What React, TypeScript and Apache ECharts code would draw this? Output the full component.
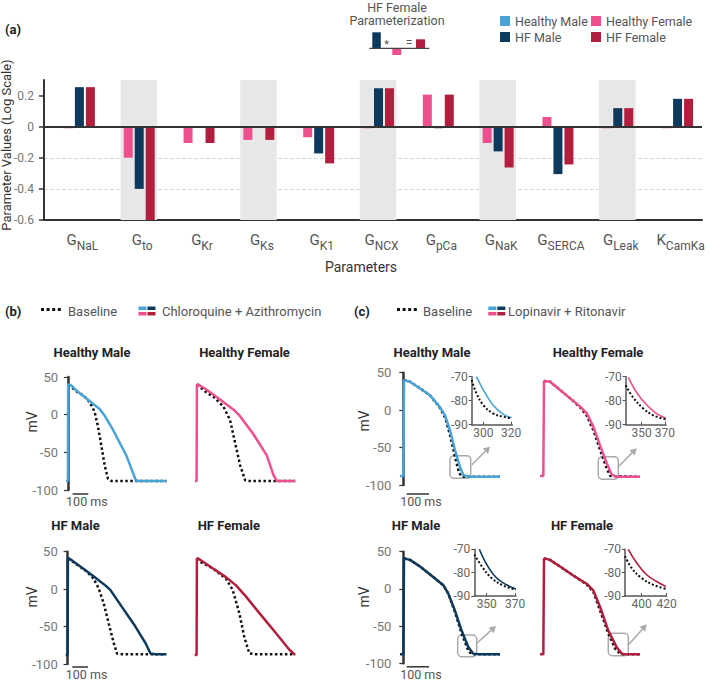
import React, { useEffect, useRef } from 'react';
import * as echarts from 'echarts';

const FONT = 'Roboto, "Noto Sans", sans-serif';

const C_HM = '#4aa3d6';
const C_HF = '#ee4f8e';
const C_HFM = '#0d3a5c';
const C_HFF = '#b21e3d';

// ---------- Panel (a) data ----------
const paramMain = ['G', 'G', 'G', 'G', 'G', 'G', 'G', 'G', 'G', 'G', 'K'];
const paramSub = ['NaL', 'to', 'Kr', 'Ks', 'K1', 'NCX', 'pCa', 'NaK', 'SERCA', 'Leak', 'CamKa'];
const categories = paramMain.map((m, i) => m + '_' + paramSub[i]);
const healthyMale = [0, 0, 0, 0, 0, 0, 0, 0, 0, 0, 0];
const healthyFemale = [-0.01, -0.2, -0.105, -0.085, -0.068, -0.01, 0.206, -0.105, 0.062, -0.01, -0.01];
const hfMale = [0.254, -0.4, -0.006, -0.006, -0.172, 0.247, -0.01, -0.159, -0.305, 0.119, 0.179];
const hfFemale = [0.254, -0.6, -0.105, -0.085, -0.236, 0.247, 0.206, -0.262, -0.243, 0.119, 0.179];
const shadedParams = ['G_to', 'G_Ks', 'G_NCX', 'G_NaK', 'G_Leak'];
const yTicksA = [-0.6, -0.4, -0.2, 0, 0.2];

// ---------- Panel (b) traces: [ms, mV] ----------
const bHM_drug = [[-12, -88], [0, -88], [2, 40], [21, 39], [60, 31], [120, 21], [200, 8], [230, 0], [287, -20], [372, -54], [420, -80], [432, -87], [450, -88], [628, -88]];
const bHM_base = [[3, 40], [21, 37], [60, 30], [96, 26], [138, 17], [170, 4], [191, -15], [213, -41], [234, -67], [255, -85], [277, -88], [628, -88]];
const bHF_drug = [[-10, -88], [0, -88], [2, 40], [11, 40], [64, 33], [149, 20], [234, 7], [277, -2], [362, -26], [447, -54], [489, -80], [511, -88], [628, -88]];
const bHF_base = [[3, 40], [21, 37], [60, 30], [106, 24], [170, 11], [213, -7], [245, -37], [277, -67], [309, -87], [330, -88], [628, -88]];
const bHFM_drug = [[-12, -88], [0, -88], [2, 41], [11, 41], [70, 32], [155, 19], [240, 5], [272, -1], [347, -24], [432, -50], [496, -72], [528, -86], [560, -87], [628, -87]];
const bHFM_base = [[3, 41], [17, 39], [113, 25], [166, 14], [198, 1], [230, -19], [262, -46], [294, -72], [315, -86], [347, -87], [628, -87]];
const bHFF_drug = [[-12, -88], [0, -88], [2, 41], [11, 41], [102, 28], [187, 16], [251, 5], [315, -10], [400, -32], [506, -59], [591, -81], [623, -87], [628, -87]];
const bHFF_base = [[3, 41], [28, 36], [102, 28], [187, 14], [230, -1], [272, -32], [304, -64], [336, -86], [379, -87], [628, -87]];

// ---------- Panel (c) traces: [ms, mV] ----------
const cHM_drug = [[-15, -88], [0, -88], [3, 40], [30, 38], [75, 29], [119, 20], [164, 4], [187, -7], [209, -27], [231, -53], [254, -76], [269, -87], [299, -89], [433, -89]];
const cHM_base = [[3, 40], [30, 38], [75, 29], [119, 20], [164, 3], [187, -10], [209, -33], [231, -62], [250, -84], [262, -89], [433, -89]];
const cHF_drug = [[-15, -88], [0, -88], [3, 39], [30, 38], [75, 27], [119, 16], [164, 5], [194, -4], [224, -22], [254, -47], [284, -71], [306, -86], [328, -89], [433, -89]];
const cHF_base = [[3, 39], [30, 38], [75, 27], [119, 16], [164, 4], [194, -7], [224, -27], [254, -53], [284, -78], [300, -88], [433, -89]];
const cHFM_drug = [[-15, -88], [0, -88], [3, 41], [30, 39], [75, 30], [134, 16], [179, 5], [201, -6], [231, -29], [261, -56], [291, -78], [313, -87], [343, -88], [433, -88]];
const cHFM_base = [[3, 41], [30, 39], [75, 30], [134, 16], [179, 5], [201, -6], [231, -31], [261, -60], [291, -83], [306, -88], [433, -88]];
const cHFF_drug = [[-15, -88], [0, -88], [3, 41], [30, 39], [75, 30], [134, 18], [194, 7], [224, -2], [254, -24], [291, -56], [328, -78], [351, -87], [373, -88], [433, -88]];
const cHFF_base = [[3, 41], [30, 39], [75, 30], [134, 18], [194, 6], [224, -4], [254, -29], [291, -60], [321, -80], [343, -87], [360, -88], [433, -88]];

// ---------- Insets (c): [ms, mV] ----------
const iHM_drug = [[295, -70], [300, -75.5], [307, -81.8], [314.5, -85.7], [320.5, -87.1]];
const iHM_base = [[291.6, -71.4], [295, -76.9], [300, -81.8], [307, -85.3], [314.5, -86.7], [320.5, -87.3]];
const iHF_drug = [[338.6, -70.3], [345.7, -76.6], [354.3, -81.7], [362.9, -85.4], [371, -87.3]];
const iHF_base = [[336.3, -73.6], [342.9, -78.8], [351.4, -83.2], [360, -86.1], [371, -87.8]];
const iHFM_drug = [[344.8, -70], [350, -76.5], [357, -82.3], [364, -85.2], [370.6, -87]];
const iHFM_base = [[341.3, -72.2], [346.4, -77.2], [353.4, -82.3], [361.6, -85.5], [370.6, -87.4]];
const iHFF_drug = [[389.3, -70], [396, -75.8], [404, -80.9], [412, -83.8], [419.5, -86]];
const iHFF_base = [[386.7, -72.9], [392, -78], [400, -82.3], [409.3, -85.2], [419.5, -87]];

const apTicks = [-100, -50, 0, 50];
const SCALE_MS = 100;

function buildOption() {
  const grids: any[] = [];
  const xAxes: any[] = [];
  const yAxes: any[] = [];
  const series: any[] = [];
  const graphics: any[] = [];

  const txt = (x: number, y: number, text: string, opts: any = {}) => ({
    type: 'text',
    x,
    y,
    rotation: opts.rotation || 0,
    silent: true,
    style: {
      text,
      fill: opts.fill || '#555',
      fontSize: opts.fontSize || 13,
      fontWeight: opts.fontWeight || 'normal',
      fontFamily: FONT,
      align: opts.align || 'left',
      textAlign: opts.align || 'left',
      verticalAlign: 'middle',
      textVerticalAlign: 'middle',
    },
  });

  // ===== Panel (a) =====
  grids.push({ left: 44, top: 80, width: 658, height: 140 });
  xAxes.push({
    gridIndex: 0,
    type: 'category',
    data: categories,
    axisLine: { onZero: false, lineStyle: { color: '#333', width: 2 } },
    axisTick: { alignWithLabel: true, length: 6, lineStyle: { color: '#333', width: 1.5 } },
    axisLabel: {
      interval: 0,
      margin: 8,
      padding: [0, 0, 0, 17],
      formatter: (v: string) => {
        const [m, s] = v.split('_');
        return `{m|${m}}{s|${s}}`;
      },
      rich: {
        m: { fontSize: 15, color: '#555', fontFamily: FONT },
        s: { fontSize: 12, color: '#555', fontFamily: FONT, padding: [12, 0, 0, 0] },
      },
    },
  });
  yAxes.push({
    gridIndex: 0,
    type: 'value',
    min: -0.6,
    max: 0.3,
    interval: 0.2,
    axisLine: { show: true, lineStyle: { color: '#333', width: 2 } },
    axisTick: { show: true, length: 5, customValues: yTicksA, lineStyle: { color: '#333', width: 1.5 } },
    axisLabel: {
      customValues: yTicksA,
      fontSize: 12,
      color: '#777',
      margin: 10,
      fontFamily: FONT,
      formatter: (v: number) => (Math.abs(v) < 1e-9 ? '0' : v.toFixed(1)),
    },
    splitLine: { show: true, showMaxLine: false, showMinLine: false, lineStyle: { type: 'dashed', color: '#d8d8d8', width: 1 } },
  });

  series.push({
    type: 'custom',
    xAxisIndex: 0,
    yAxisIndex: 0,
    silent: true,
    z: 1,
    data: shadedParams.map((p) => [p, 0.3]),
    encode: { x: 0, y: 1 },
    renderItem: (params: any, api: any) => {
      const idx = api.value(0);
      const top = api.coord([idx, 0.3]);
      const bot = api.coord([idx, -0.6]);
      const bw = api.size([1, 0])[0];
      return {
        type: 'rect',
        shape: { x: top[0] - 0.22 * bw, y: top[1], width: 0.61 * bw, height: bot[1] - top[1] },
        style: { fill: '#e7e7e7' },
      };
    },
  });

  const barDefs = [
    { name: 'Healthy Male', data: healthyMale, color: C_HM },
    { name: 'Healthy Female', data: healthyFemale, color: C_HF },
    { name: 'HF Male', data: hfMale, color: C_HFM },
    { name: 'HF Female', data: hfFemale, color: C_HFF },
  ];
  barDefs.forEach((b, i) => {
    const s: any = {
      type: 'bar',
      name: b.name,
      xAxisIndex: 0,
      yAxisIndex: 0,
      data: b.data,
      barWidth: 9,
      barGap: '22%',
      itemStyle: { color: b.color },
      z: 2,
      silent: true,
    };
    if (i === 3) {
      s.markLine = {
        silent: true,
        symbol: 'none',
        label: { show: false },
        lineStyle: { color: '#333', width: 2, type: 'solid' },
        data: [{ yAxis: 0 }],
        z: 5,
      };
    }
    series.push(s);
  });

  graphics.push(txt(5, 29, '(a)', { fontWeight: 'bold', fill: '#222' }));
  graphics.push(txt(6, 145, 'Parameter Values (Log Scale)', { rotation: Math.PI / 2, align: 'center', fontSize: 13, fill: '#333' }));
  graphics.push(txt(361, 267, 'Parameters', { align: 'center', fontSize: 14, fill: '#333' }));
  graphics.push(txt(397, 7, 'HF Female', { align: 'center', fontSize: 12.5, fill: '#555' }));
  graphics.push(txt(397, 20.5, 'Parameterization', { align: 'center', fontSize: 12.5, fill: '#555' }));
  // mini illustration
  graphics.push({ type: 'rect', silent: true, shape: { x: 372.3, y: 32.3, width: 8.5, height: 15.7 }, style: { fill: C_HFM } });
  graphics.push({ type: 'rect', silent: true, shape: { x: 392.3, y: 48.5, width: 9, height: 6.5 }, style: { fill: C_HF } });
  graphics.push({ type: 'rect', silent: true, shape: { x: 416, y: 39.3, width: 9, height: 8.8 }, style: { fill: C_HFF } });
  graphics.push({ type: 'line', silent: true, shape: { x1: 369.3, y1: 48.3, x2: 429.3, y2: 48.3 }, style: { stroke: '#444', lineWidth: 1.2 } });
  graphics.push(txt(386.7, 44, '*', { align: 'center', fontSize: 11, fill: '#555' }));
  graphics.push(txt(409, 42.7, '=', { align: 'center', fontSize: 12, fill: '#555' }));

  // ===== Panels (b) & (c) =====
  const apCharts = [
    { left: 66, top: 377, w: 100.5, h: 113, xMin: -12, xMax: 628, drug: bHM_drug, base: bHM_base, color: C_HM, axis: true, bar: 30, barOff: 4 },
    { left: 194.7, top: 377, w: 100.5, h: 113, xMin: -12, xMax: 628, drug: bHF_drug, base: bHF_base, color: C_HF, axis: false },
    { left: 65.7, top: 551.7, w: 100.5, h: 112.3, xMin: -12, xMax: 628, drug: bHFM_drug, base: bHFM_base, color: C_HFM, axis: true, bar: 30, barOff: 3 },
    { left: 194.7, top: 551.7, w: 100.5, h: 112.3, xMin: -12, xMax: 628, drug: bHFF_drug, base: bHFF_base, color: C_HFF, axis: false },
    { left: 399.3, top: 372.7, w: 100.7, h: 112.3, xMin: -18, xMax: 433, drug: cHM_drug, base: cHM_base, color: C_HM, axis: true, bar: 15, barOff: 9 },
    { left: 539.3, top: 372.7, w: 100.7, h: 112.3, xMin: -18, xMax: 433, drug: cHF_drug, base: cHF_base, color: C_HF, axis: false },
    { left: 399.3, top: 551.7, w: 100.7, h: 111.6, xMin: -18, xMax: 433, drug: cHFM_drug, base: cHFM_base, color: C_HFM, axis: true, bar: 15, barOff: 3.5 },
    { left: 539.3, top: 551.7, w: 100.7, h: 111.6, xMin: -18, xMax: 433, drug: cHFF_drug, base: cHFF_base, color: C_HFF, axis: false },
  ];

  apCharts.forEach((c) => {
    const gi = grids.length;
    grids.push({ left: c.left, top: c.top, width: c.w, height: c.h });
    xAxes.push({ gridIndex: gi, type: 'value', min: c.xMin, max: c.xMax, show: false });
    yAxes.push({
      gridIndex: gi,
      type: 'value',
      min: -100,
      max: 50,
      interval: 50,
      show: c.axis,
      axisLine: { show: true, lineStyle: { color: '#333', width: 2.5 } },
      axisTick: { show: true, length: 4, customValues: apTicks, lineStyle: { color: '#333', width: 1.2 } },
      axisLabel: { show: true, customValues: apTicks, fontSize: 13, color: '#777', margin: 8, fontFamily: FONT },
      splitLine: { show: false },
    });
    series.push({
      type: 'line',
      xAxisIndex: gi,
      yAxisIndex: gi,
      data: c.base,
      symbol: 'none',
      showSymbol: false,
      silent: true,
      z: 2,
      lineStyle: { color: '#111', width: 2.5, type: 'dotted' },
    });
    series.push({
      type: 'line',
      xAxisIndex: gi,
      yAxisIndex: gi,
      data: c.drug,
      symbol: 'none',
      showSymbol: false,
      silent: true,
      z: 3,
      lineStyle: { color: c.color, width: 2.5 },
    });
    if (c.axis) {
      const off = c.barOff as number;
      series.push({
        type: 'custom',
        xAxisIndex: gi,
        yAxisIndex: gi,
        silent: true,
        clip: false,
        z: 4,
        data: [[c.bar, -100]],
        encode: { x: 0, y: 1 },
        renderItem: (params: any, api: any) => {
          const p0 = api.coord([api.value(0), api.value(1)]);
          const p1 = api.coord([api.value(0) + SCALE_MS, api.value(1)]);
          return {
            type: 'group',
            children: [
              { type: 'line', shape: { x1: p0[0], y1: p0[1] + off, x2: p1[0], y2: p0[1] + off }, style: { stroke: '#333', lineWidth: 1.5 } },
              {
                type: 'text',
                x: p0[0] - 6.5,
                y: p0[1] + off + 7.5,
                style: { text: '100 ms', fill: '#555', fontSize: 12.5, fontFamily: FONT, align: 'left', textAlign: 'left', verticalAlign: 'middle', textVerticalAlign: 'middle' },
              },
            ],
          };
        },
      });
    }
  });

  // ===== Insets =====
  const insets = [
    { left: 471.7, top: 376.7, w: 40.7, h: 48, xMin: 291.6, xMax: 321, ticks: [300, 320], drug: iHM_drug, base: iHM_base, color: C_HM },
    { left: 625.7, top: 376.7, w: 40.3, h: 48, xMin: 336.3, xMax: 371, ticks: [350, 370], drug: iHF_drug, base: iHF_base, color: C_HF },
    { left: 474.3, top: 549.3, w: 41.7, h: 46.7, xMin: 341.2, xMax: 370.7, ticks: [350, 370], drug: iHFM_drug, base: iHFM_base, color: C_HFM },
    { left: 625, top: 549.3, w: 41.7, h: 46.7, xMin: 386.7, xMax: 420, ticks: [400, 420], drug: iHFF_drug, base: iHFF_base, color: C_HFF },
  ];
  insets.forEach((c) => {
    const gi = grids.length;
    grids.push({ left: c.left, top: c.top, width: c.w, height: c.h });
    xAxes.push({
      gridIndex: gi,
      type: 'value',
      min: c.xMin,
      max: c.xMax,
      axisLine: { show: true, onZero: false, lineStyle: { color: '#555', width: 1.5 } },
      axisTick: { show: true, inside: true, length: 3, customValues: c.ticks, lineStyle: { color: '#555' } },
      axisLabel: { customValues: c.ticks, fontSize: 12, color: '#666', margin: 2, fontFamily: FONT },
      splitLine: { show: false },
    });
    yAxes.push({
      gridIndex: gi,
      type: 'value',
      min: -90,
      max: -70,
      interval: 10,
      axisLine: { show: true, lineStyle: { color: '#555', width: 1.5 } },
      axisTick: { show: true, length: 3, lineStyle: { color: '#555' } },
      axisLabel: { fontSize: 12, color: '#666', margin: 4, fontFamily: FONT },
      splitLine: { show: false },
    });
    series.push({
      type: 'line', xAxisIndex: gi, yAxisIndex: gi, data: c.drug, symbol: 'none', silent: true, smooth: 0.4, z: 2,
      lineStyle: { color: c.color, width: 1.6 },
    });
    series.push({
      type: 'line', xAxisIndex: gi, yAxisIndex: gi, data: c.base, symbol: 'none', silent: true, smooth: 0.4, z: 3,
      lineStyle: { color: '#111', width: 2, type: 'dotted' },
    });
  });

  // ----- titles -----
  const titles: [number, number, string][] = [
    [92, 352, 'Healthy Male'], [244.5, 352, 'Healthy Female'], [75.5, 525, 'HF Male'], [228.8, 525, 'HF Female'],
    [432, 352, 'Healthy Male'], [598, 352, 'Healthy Female'], [416, 525, 'HF Male'], [582, 525, 'HF Female'],
  ];
  titles.forEach(([x, y, t]) => graphics.push(txt(x, y, t, { align: 'center', fontWeight: 'bold', fill: '#222', fontSize: 13 })));

  // mV labels
  [[32, 422], [32, 597], [364, 421], [364, 597]].forEach(([x, y]) =>
    graphics.push(txt(x, y, 'mV', { rotation: Math.PI / 2, align: 'center', fontSize: 14, fill: '#333' }))
  );

  // ----- (b)/(c) legends -----
  const legendRow = (x0: number, label: string, dotX: number, baseX: number, sqX: number, drugX: number, drug: string) => {
    graphics.push(txt(x0, 311, label, { fontWeight: 'bold', fill: '#222' }));
    graphics.push({ type: 'line', silent: true, shape: { x1: dotX, y1: 309.5, x2: dotX + 20, y2: 309.5 }, style: { stroke: '#111', lineWidth: 3, lineDash: [3, 2.6] } });
    graphics.push(txt(baseX, 311, 'Baseline', { fill: '#555' }));
    graphics.push({ type: 'rect', silent: true, shape: { x: sqX, y: 306.5, width: 8, height: 3.5 }, style: { fill: C_HM } });
    graphics.push({ type: 'rect', silent: true, shape: { x: sqX + 9, y: 306.5, width: 8, height: 3.5 }, style: { fill: C_HFM } });
    graphics.push({ type: 'rect', silent: true, shape: { x: sqX, y: 312, width: 8, height: 3.5 }, style: { fill: C_HF } });
    graphics.push({ type: 'rect', silent: true, shape: { x: sqX + 9, y: 312, width: 8, height: 3.5 }, style: { fill: C_HFF } });
    graphics.push(txt(drugX, 311, drug, { fill: '#555' }));
  };
  legendRow(5, '(b)', 41, 68, 138.5, 162, 'Chloroquine + Azithromycin');
  legendRow(354, '(c)', 397, 423, 488.3, 508, 'Lopinavir + Ritonavir');

  // ----- magnifier boxes and arrows -----
  const boxes = [
    { x: 450, y: 455.7, w: 20.7, h: 22.6, a: [471.7, 465, 490, 446.7] },
    { x: 598.3, y: 456.7, w: 20, h: 22.6, a: [618.3, 466.7, 636.7, 448.3] },
    { x: 457.7, y: 635, w: 19, h: 21.7, a: [476.7, 643.3, 496, 626] },
    { x: 608.3, y: 633.3, w: 20, h: 22.4, a: [628.3, 645, 646.7, 624.3] },
  ];
  const grey = '#aaaaaa';
  boxes.forEach((b) => {
    graphics.push({ type: 'rect', silent: true, shape: { x: b.x, y: b.y, width: b.w, height: b.h, r: 4 }, style: { fill: 'none', stroke: grey, lineWidth: 1.5 } });
    const [x1, y1, x2, y2] = b.a;
    const dx = x2 - x1, dy = y2 - y1;
    const len = Math.sqrt(dx * dx + dy * dy);
    const ux = dx / len, uy = dy / len;
    const hl = 6.5, hw = 3.8;
    const bx = x2 - ux * hl, by = y2 - uy * hl;
    graphics.push({ type: 'line', silent: true, shape: { x1, y1, x2: bx, y2: by }, style: { stroke: grey, lineWidth: 1.5 } });
    graphics.push({
      type: 'polygon', silent: true,
      shape: { points: [[x2, y2], [bx - uy * hw, by + ux * hw], [bx + uy * hw, by - ux * hw]] },
      style: { fill: grey },
    });
  });

  return {
    animation: false,
    textStyle: { fontFamily: FONT },
    grid: grids,
    xAxis: xAxes,
    yAxis: yAxes,
    legend: [
      {
        data: ['Healthy Male', 'HF Male'], orient: 'vertical', left: 500, top: 14.5, padding: 0,
        itemWidth: 10, itemHeight: 10, itemGap: 3, selectedMode: false, icon: 'rect',
        textStyle: { fontSize: 12.5, color: '#555', fontFamily: FONT },
      },
      {
        data: ['Healthy Female', 'HF Female'], orient: 'vertical', left: 591, top: 14.5, padding: 0,
        itemWidth: 10, itemHeight: 10, itemGap: 3, selectedMode: false, icon: 'rect',
        textStyle: { fontSize: 12.5, color: '#555', fontFamily: FONT },
      },
    ],
    series,
    graphic: { elements: graphics },
  };
}

export default function App() {
  const ref = useRef<HTMLDivElement>(null);
  useEffect(() => {
    if (!ref.current) return;
    const chart = echarts.init(ref.current, undefined, { renderer: 'svg' });
    chart.setOption(buildOption() as any);
    return () => chart.dispose();
  }, []);
  return (
    <div
      ref={ref}
      style={{ position: 'fixed', left: 0, top: 0, width: 709, height: 682, background: '#fff' }}
    />
  );
}
